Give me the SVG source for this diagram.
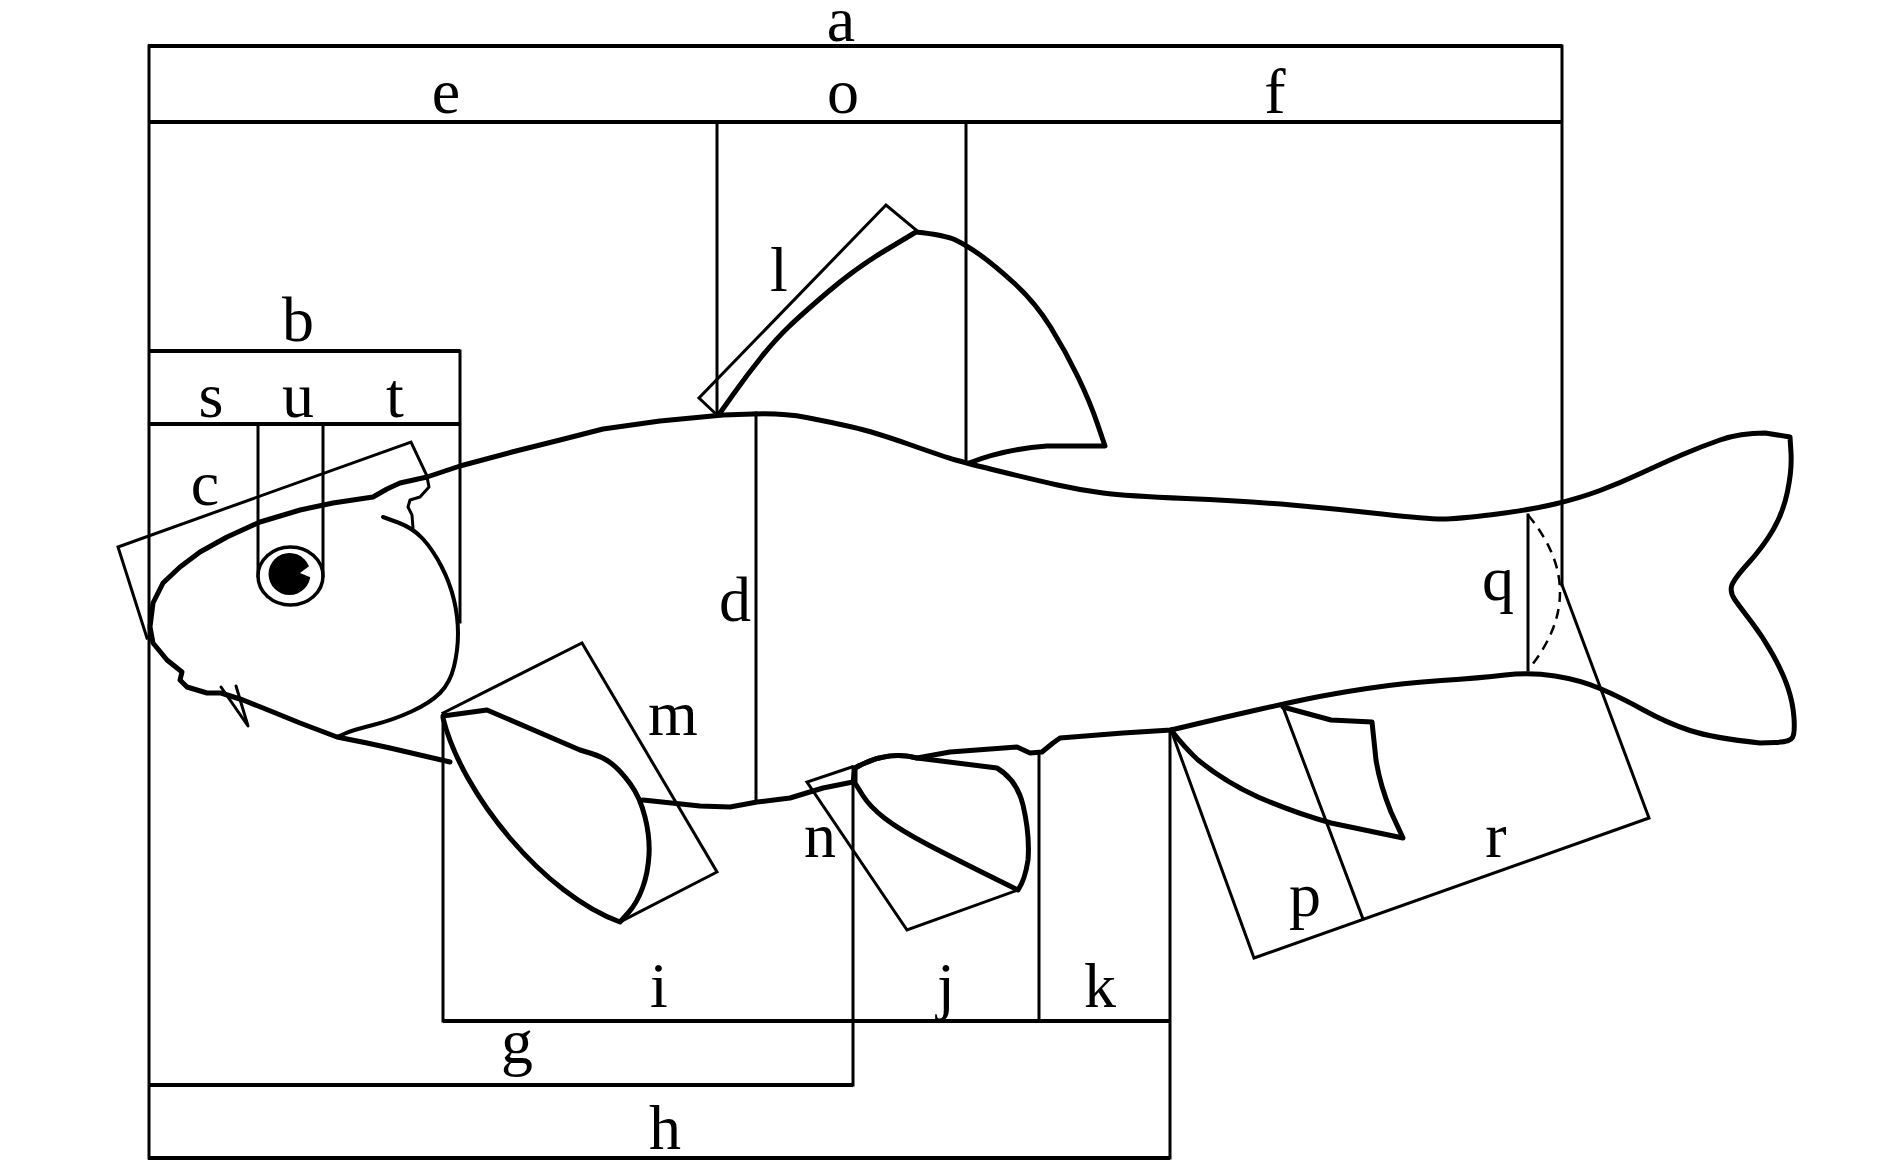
<svg xmlns="http://www.w3.org/2000/svg" width="1890" height="1167" viewBox="0 0 1890 1167">
<style>
.m{fill:none;stroke:#000;stroke-width:3;stroke-linecap:square}
.mh{fill:none;stroke:#000;stroke-width:4}
.body{fill:none;stroke:#000;stroke-width:5;stroke-linejoin:round;stroke-linecap:round}
.fin{fill:none;stroke:#000;stroke-width:5;stroke-linejoin:round;stroke-linecap:round}
.thin{fill:none;stroke:#000;stroke-width:3;stroke-linejoin:round;stroke-linecap:round}
.lbl{font-family:"Liberation Serif","Times New Roman",serif;font-size:64px;fill:#000;text-anchor:middle}
</style>
<rect width="1890" height="1167" fill="#fff"/>
<g id="fish">
<path class="body" d="M450,762 L420,755 L390,748 L367,743 L337,737 L300,723 L273,712 L243,700 L221,693 L207,693 L187,687 L180,680 L182,672 L167,660 L153,643 L150,627 L153,603 L163,583 L180,567 L200,552 L227,537 L260,522 L300,510 L333,503 L353,500 L373,497 L387,489 L400,483 L427,477 L460,466 L512,452 L560,440 L603,429 L660,421 L723,415 L753,414 Q783,413 806.5,417.5 Q830,422 852,427 Q874,432 909.5,444.5 Q945,457 955.5,460 Q966,463 1000.5,471.5 Q1035,480 1057.5,485 Q1080,490 1103,493 Q1126,496 1186,498.5 Q1246,501 1291.5,505 Q1337,509 1382,514 Q1427,519 1442,519 Q1457,519 1493.5,514.5 Q1530,510 1555,504 Q1580,498 1600,490.5 Q1620,483 1641.5,473 Q1663,463 1681.5,455 Q1700,447 1720,440 Q1740,433 1765,433 L1790,437 L1791,453 Q1792,470 1787.5,491.5 Q1783,513 1773,530 Q1763,547 1748,563.5 Q1733,580 1731.5,586.5 Q1730,593 1735,600 Q1740,607 1751.5,622 Q1763,637 1773,655 Q1783,673 1788,688 Q1793,703 1794,718 Q1795,733 1792.5,737.5 Q1790,742 1775,742.5 L1760,743 Q1713,738 1690,730.5 Q1667,723 1643.5,710 Q1620,697 1600,688.5 Q1580,680 1555,676 Q1530,672 1505,675 Q1480,678 1441.5,680.5 Q1403,683 1367,688.5 Q1331,694 1307,699 Q1283,704 1256.5,710 Q1230,716 1200.5,723 L1171,730 L1123,733 L1060,738 L1053,743 L1042,752 L1030,753 L1017,747 L950,752 L917,758 Q887,750 855,768 L853,782 L823,788 L790,798 L757,802 L730,807 L700,806 L643,800"/>
<path class="thin" d="M221,687 L248,726 L236,686"/>
<path class="thin" d="M427,477 L429,487 L420,497 L410,500 L408,507 L412,515 L413,528"/>
<path class="fin" style="stroke-width:4" d="M383,517 L398,522.5 Q413,528 423,539 Q433,550 441.5,566.5 Q450,583 454,600 Q458,617 458,633.5 Q458,650 454,666.5 Q450,683 440,693 Q430,703 411.5,711.5 Q393,720 373,725 Q353,730 345,733.5 L337,737"/>
<ellipse cx="290.5" cy="576" rx="32.5" ry="29" fill="#fff" stroke="#000" stroke-width="3.5"/>
<circle cx="289.5" cy="574" r="21" fill="#000"/>
<polygon points="300,573 312,564 312,578" fill="#fff"/>
</g>
<g id="dorsal-fin">
<path class="fin" d="M720,413 L733.5,394 Q747,375 761,357.5 Q775,340 788.5,327 Q802,314 829,291 Q856,268 886,250 L916,232 Q945,235 955.5,240 Q966,245 979.5,254.5 Q993,264 1014,283 Q1035,302 1050.5,327 Q1066,352 1078,377 Q1090,402 1097.5,424 L1105,446 L1047,446 Q1005,449 969,463"/>
</g>
<g id="pectoral-fin">
<path class="fin" d="M443,716 L487,710 L580,750 L591.5,753.5 Q603,757 611.5,763.5 Q620,770 630,783.5 Q640,797 645,817 Q650,837 649,855 Q648,873 642.5,888 Q637,903 628.5,912.5 L620,922 C545,895 462,795 443,718 Z"/>
</g>
<g id="pelvic-fin">
<path class="fin" d="M855,768 Q887,750 917,758 L997,768 Q1017,780 1023,805 Q1030,835 1028,860 Q1025,880 1018,890 Q957,860 928.5,845 Q900,830 885,818.5 Q870,807 862.5,795 L855,783 Z"/>
</g>
<g id="anal-fin">
<path class="fin" d="M1171,730 Q1185,748 1198,760 Q1225,782 1258,797 Q1295,813 1331,823 L1403,838 L1391,812 Q1380,785 1376,760 L1372,722 L1331,720 L1283,707"/>
</g>
<g id="connectors">
<line class="mh" x1="148" y1="46" x2="1562" y2="46"/>
<line class="mh" x1="148" y1="122" x2="1562" y2="122"/>
<line class="m" x1="149" y1="46" x2="149" y2="1158"/>
<line class="m" x1="1562" y1="46" x2="1562" y2="585"/>
<line class="m" x1="717" y1="122" x2="717" y2="415"/>
<line class="m" x1="966" y1="122" x2="966" y2="463"/>
<line class="mh" x1="148" y1="351" x2="460" y2="351"/>
<line class="mh" x1="148" y1="424" x2="460" y2="424"/>
<line class="m" x1="460" y1="351" x2="460" y2="622"/>
<line class="m" x1="258" y1="424" x2="258" y2="576"/>
<line class="m" x1="323" y1="424" x2="323" y2="576"/>
<polyline class="m" points="147,638 118,547 411,442 427,476"/>
<polyline class="m" points="717,415 699,398 886,205 916,230"/>
<line class="m" x1="756" y1="413" x2="756" y2="802"/>
<polyline class="m" points="443,713 582,643 717,872 620,922"/>
<polyline class="m" points="1018,890 907,930 807,782 852,767"/>
<line class="m" x1="443" y1="717" x2="443" y2="1021"/>
<line class="mh" x1="443" y1="1021" x2="1170" y2="1021"/>
<line class="m" x1="1039" y1="753" x2="1039" y2="1021"/>
<line class="m" x1="853" y1="767" x2="853" y2="1085"/>
<line class="mh" x1="148" y1="1085" x2="853" y2="1085"/>
<line class="m" x1="1170" y1="733" x2="1170" y2="1158"/>
<line class="mh" x1="148" y1="1158" x2="1170" y2="1158"/>
<polyline class="m" points="1171,730 1254,958 1649,818 1562,585"/>
<line class="m" x1="1283" y1="707" x2="1363" y2="919"/>
<line class="m" x1="1528" y1="515" x2="1528" y2="670"/>
<path fill="none" stroke="#000" stroke-width="2.5" stroke-dasharray="10,7" d="M1528,515 Q1592,592 1528,670"/>
</g>
<g id="labels">
<text class="lbl" x="841" y="41">a</text>
<text class="lbl" x="446" y="113">e</text>
<text class="lbl" x="843" y="113">o</text>
<text class="lbl" x="1275" y="113">f</text>
<text class="lbl" x="298" y="341">b</text>
<text class="lbl" x="211" y="417">s</text>
<text class="lbl" x="298" y="417">u</text>
<text class="lbl" x="395" y="417">t</text>
<text class="lbl" x="205" y="505">c</text>
<text class="lbl" x="779" y="291">l</text>
<text class="lbl" x="735" y="621">d</text>
<text class="lbl" x="673" y="735">m</text>
<text class="lbl" x="820" y="857">n</text>
<text class="lbl" x="1498" y="600">q</text>
<text class="lbl" x="1496" y="857">r</text>
<text class="lbl" x="1305" y="916">p</text>
<text class="lbl" x="659" y="1007">i</text>
<text class="lbl" x="946" y="1007">j</text>
<text class="lbl" x="1100" y="1007">k</text>
<text class="lbl" x="517" y="1063">g</text>
<text class="lbl" x="665" y="1149">h</text>
</g>
</svg>
